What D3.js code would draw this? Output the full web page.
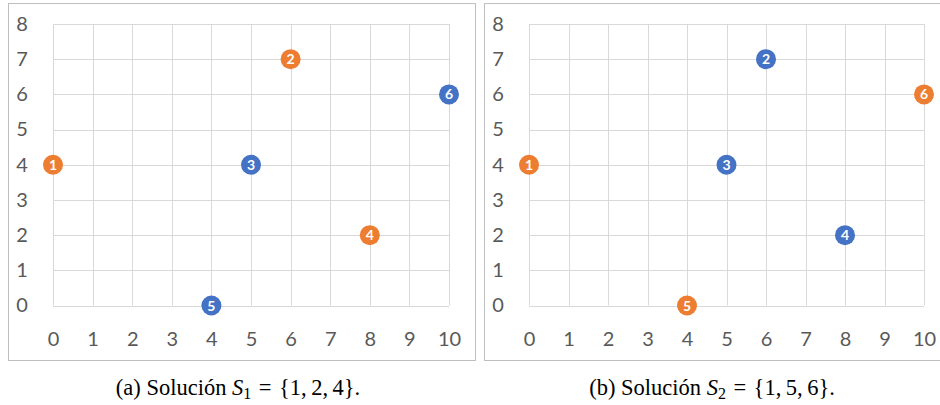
<!DOCTYPE html>
<html lang="es">
<head>
  <meta charset="UTF-8">
  <title>Soluciones S1 y S2</title>
  <style>
    body { margin: 0; padding: 0; background: #fff; }
    svg { display: block; }
    .tick text { font-family: Lato, "Open Sans", sans-serif; font-size: 20px; fill: #595959; }
    .caption { font-family: "Liberation Serif", "DejaVu Serif", serif; font-size: 22.5px; fill: #000; }
  </style>
</head>
<body>
  <svg id="chart" width="940" height="405"></svg>
  <script src="https://d3js.org/d3.v7.min.js"></script>
  <script>
    // point coordinates, shared by both panels
    const pointIds = [1, 2, 3, 4, 5, 6];
    const pointX = [0, 6, 5, 8, 4, 10];
    const pointY = [4, 7, 4, 2, 0, 6];
    // which points are in the solution (orange) per panel
    const solutionA = [1, 2, 4];
    const solutionB = [1, 5, 6];
    const xTicks = [0, 1, 2, 3, 4, 5, 6, 7, 8, 9, 10];
    const yTicks = [0, 1, 2, 3, 4, 5, 6, 7, 8];

    const ORANGE = "#ED7D31", BLUE = "#4472C4";
    const svg = d3.select("#chart");

    const panels = [
      { box: [8.5, 3.5, 467, 357], plotX: [53, 449], label: "(a) Solución ", sub: "1", sol: solutionA, capX: 238 },
      { box: [484.5, 3.5, 460, 357], plotX: [529, 924], label: "(b) Solución ", sub: "2", sol: solutionB, capX: 712 }
    ];

    panels.forEach(p => {
      const g = svg.append("g");

      g.append("rect")
        .attr("x", p.box[0]).attr("y", p.box[1])
        .attr("width", p.box[2]).attr("height", p.box[3])
        .attr("fill", "#fff").attr("stroke", "#bfbfbf");

      const x = d3.scaleLinear().domain([0, 10]).range(p.plotX);
      const y = d3.scaleLinear().domain([0, 8]).range([305.5, 24]);

      // grid
      g.selectAll(".vgrid").data(xTicks).enter().append("line")
        .attr("x1", d => Math.round(x(d)) + 0.5).attr("x2", d => Math.round(x(d)) + 0.5)
        .attr("y1", y(0)).attr("y2", y(8))
        .attr("stroke", "#d9d9d9");
      g.selectAll(".hgrid").data(yTicks).enter().append("line")
        .attr("y1", d => Math.round(y(d)) + 0.5).attr("y2", d => Math.round(y(d)) + 0.5)
        .attr("x1", x(0)).attr("x2", x(10))
        .attr("stroke", "#d9d9d9");

      // axes (labels only)
      const xAxis = g.append("g").attr("transform", `translate(0,${y(0) + 20})`)
        .call(d3.axisBottom(x).tickValues(xTicks).tickSize(0).tickPadding(6).tickFormat(d3.format("d")));
      xAxis.select(".domain").remove();

      const yAxis = g.append("g").attr("transform", `translate(${x(0) - 23},0)`)
        .call(d3.axisLeft(y).tickValues(yTicks).tickSize(0).tickPadding(0).tickFormat(d3.format("d")));
      yAxis.select(".domain").remove();
      yAxis.selectAll("text").attr("text-anchor", "middle").attr("x", -8);

      // points
      const pts = pointIds.map((id, i) => ({ id, x: pointX[i], y: pointY[i], inSol: p.sol.includes(id) }));
      const pg = g.selectAll(".pt").data(pts).enter().append("g")
        .attr("transform", d => `translate(${x(d.x)},${y(d.y)})`);
      pg.append("circle").attr("r", 10).attr("fill", d => d.inSol ? ORANGE : BLUE);
      pg.append("text")
        .attr("text-anchor", "middle").attr("dy", "0.36em")
        .style("font-family", "Lato, 'Open Sans', sans-serif")
        .style("font-size", "14px").style("font-weight", "bold")
        .attr("fill", "#fff")
        .text(d => d.id);

      // caption, e.g. "(a) Solución S1 = {1, 2, 4}."
      const cap = svg.append("text").attr("class", "caption")
        .attr("x", p.capX).attr("y", 395).attr("text-anchor", "middle");
      cap.append("tspan").text(p.label);
      cap.append("tspan").style("font-style", "italic").text("S");
      cap.append("tspan").attr("dy", 4).style("font-size", "16px").text(p.sub);
      cap.append("tspan").attr("dy", -4).text("\u2004=\u2004{" + p.sol.join(",\u2009") + "}.");
    });
  </script>
</body>
</html>
